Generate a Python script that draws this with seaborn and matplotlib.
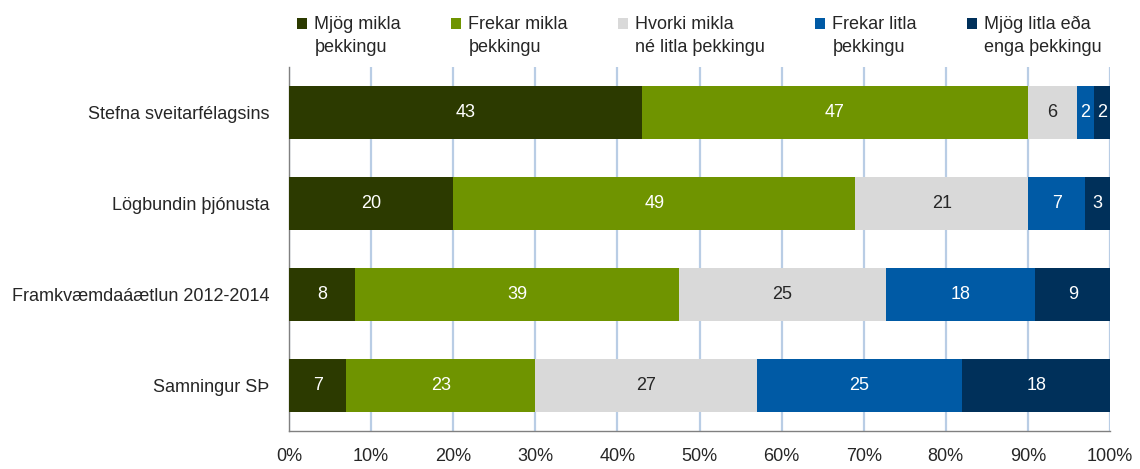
import numpy as np
import pandas as pd
import seaborn as sns
from matplotlib import pyplot as plt
from matplotlib.patches import Patch, Rectangle
from matplotlib.legend_handler import HandlerPatch

# Data (percent of respondents)
categories = ["Stefna sveitarfélagsins", "Lögbundin þjónusta",
              "Framkvæmdaáætlun 2012-2014", "Samningur SÞ"]
series_names = ["Mjög mikla\nþekkingu", "Frekar mikla\nþekkingu",
                "Hvorki mikla\nné litla þekkingu", "Frekar litla\nþekkingu",
                "Mjög litla eða\nenga þekkingu"]
mjog_mikla = [43, 20, 8, 7]
frekar_mikla = [47, 49, 39, 23]
hvorki = [6, 21, 25, 27]
frekar_litla = [2, 7, 18, 25]
mjog_litla = [2, 3, 9, 18]

colors = ["#2c3a00", "#6f9400", "#d9d9d9", "#005aa5", "#00305a"]
text_colors = ["white", "white", "#262626", "white", "white"]

sns.set_style("white")
plt.rcParams["font.family"] = ["Liberation Sans", "DejaVu Sans"]

values = np.array([mjog_mikla, frekar_mikla, hvorki, frekar_litla, mjog_litla], dtype=float)
shares = values / values.sum(axis=0) * 100
cum = shares.cumsum(axis=0)

fig = plt.figure(figsize=(11.4, 4.69), dpi=100)
ax = fig.add_axes([0.2535, 0.081, 0.7202, 0.776])

# stacked bars: draw cumulative totals from the widest down
for i in range(len(series_names) - 1, -1, -1):
	df = pd.DataFrame({"category": categories, "value": cum[i]})
	sns.barplot(data=df, y="category", x="value", color=colors[i], saturation=1,
				width=0.58, ax=ax, zorder=3, linewidth=0)

# segment labels
for i in range(len(series_names)):
	for j in range(len(categories)):
		center = cum[i, j] - shares[i, j] / 2
		ax.text(center, j, "{:d}".format(int(values[i, j])), ha="center", va="center",
				color=text_colors[i], fontsize=13, zorder=4)

ax.set_xlim(0, 100)
ax.set_ylim(3.5, -0.5)
ax.set_xticks(np.arange(0, 101, 10))
ax.set_xticklabels(["{}%".format(v) for v in range(0, 101, 10)], fontsize=13)
ax.set_yticks(range(len(categories)))
ax.set_yticklabels(categories, fontsize=13)
ax.set_yticks(np.arange(-0.5, 4, 1), minor=True)
ax.tick_params(axis="y", which="major", length=0, pad=14)
ax.tick_params(axis="y", which="minor", length=6, color="#808080", direction="out")
ax.tick_params(axis="x", length=6, color="#808080", direction="out", pad=6)
ax.set_xlabel("")
ax.set_ylabel("")

ax.grid(axis="x", color="#b9cde5", linewidth=1.6, zorder=0)
ax.set_axisbelow(True)
for side in ["top", "right"]:
	ax.spines[side].set_visible(False)
for side in ["left", "bottom"]:
	ax.spines[side].set_color("#808080")
	ax.spines[side].set_linewidth(1)


# legend marker sits next to the first line of the label
def top_square(legend, orig_handle, xdescent, ydescent, width, height, fontsize):
	return Rectangle((-xdescent, -ydescent + 0.72 * fontsize), width, height)


handles = [Patch(facecolor=c, edgecolor="none") for c in colors]
leg = ax.legend(handles, series_names, loc="lower center", bbox_to_anchor=(0.5, 1.01),
				ncol=5, frameon=False, fontsize=13, handlelength=0.55, handleheight=0.55,
				handletextpad=0.4, columnspacing=2.78, borderaxespad=0,
				handler_map={Patch: HandlerPatch(patch_func=top_square)})
for t in leg.get_texts():
	t.set_linespacing(1.45)

fig.savefig("out.png", dpi=100)
